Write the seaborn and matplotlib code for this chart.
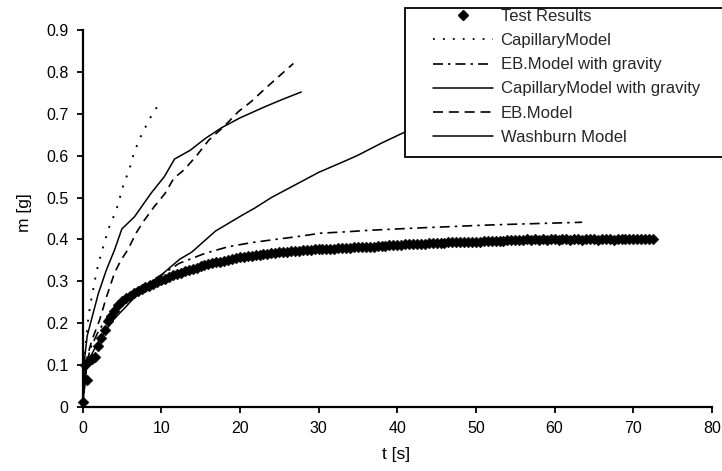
import numpy as np
import pandas as pd
import matplotlib
matplotlib.use("Agg")
import matplotlib.pyplot as plt
from matplotlib.lines import Line2D
from matplotlib.patches import Rectangle
import seaborn as sns

# ---------------- data ----------------
test_t = [0.1, 0.3, 0.6, 0.9, 1.2, 1.6, 2.0, 2.4, 2.8, 3.2, 3.6, 4.0,
          4.5, 5.0, 5.5, 6.0, 6.5, 7.0, 7.5, 8.0, 8.5, 9.0, 9.5, 10.0,
          10.5, 11.0, 11.5, 12.0, 12.5, 13.0, 13.5, 14.0, 14.5, 15.0,
          15.5, 16.0, 16.5, 17.0, 17.5, 18.0, 18.5, 19.0, 19.5, 20.0,
          20.5, 21.0, 21.5, 22.0, 22.5, 23.0, 23.5, 24.0, 24.5, 25.0,
          25.5, 26.0, 26.5, 27.0, 27.5, 28.0, 28.5, 29.0, 29.5, 30.0,
          30.5, 31.0, 31.5, 32.0, 32.5, 33.0, 33.5, 34.0, 34.5, 35.0,
          35.5, 36.0, 36.5, 37.0, 37.5, 38.0, 38.5, 39.0, 39.5, 40.0,
          40.5, 41.0, 41.5, 42.0, 42.5, 43.0, 43.5, 44.0, 44.5, 45.0,
          45.5, 46.0, 46.5, 47.0, 47.5, 48.0, 48.5, 49.0, 49.5, 50.0,
          50.5, 51.0, 51.5, 52.0, 52.5, 53.0, 53.5, 54.0, 54.5, 55.0,
          55.5, 56.0, 56.5, 57.0, 57.5, 58.0, 58.5, 59.0, 59.5, 60.0,
          60.5, 61.0, 61.5, 62.0, 62.5, 63.0, 63.5, 64.0, 64.5, 65.0,
          65.5, 66.0, 66.5, 67.0, 67.5, 68.0, 68.5, 69.0, 69.5, 70.0,
          70.5, 71.0, 71.5, 72.0, 72.5]
test_m = [0.013, 0.100, 0.064, 0.112, 0.115, 0.120, 0.145, 0.165, 0.185, 0.205, 0.218, 0.230,
          0.243, 0.252, 0.260, 0.266, 0.272, 0.277, 0.282, 0.286, 0.290, 0.294, 0.298, 0.302,
          0.306, 0.310, 0.314, 0.318, 0.321, 0.324, 0.327, 0.330, 0.333, 0.336,
          0.338, 0.341, 0.343, 0.345, 0.347, 0.349, 0.351, 0.353, 0.355, 0.357,
          0.358, 0.360, 0.361, 0.362, 0.364, 0.365, 0.366, 0.367, 0.368, 0.369,
          0.370, 0.371, 0.372, 0.372, 0.373, 0.374, 0.374, 0.375, 0.376, 0.376,
          0.377, 0.377, 0.378, 0.378, 0.379, 0.379, 0.380, 0.380, 0.381, 0.381,
          0.382, 0.382, 0.383, 0.383, 0.384, 0.385, 0.385, 0.386, 0.386, 0.387,
          0.387, 0.388, 0.388, 0.389, 0.389, 0.390, 0.390, 0.391, 0.391, 0.392,
          0.392, 0.392, 0.393, 0.393, 0.393, 0.394, 0.394, 0.394, 0.395, 0.395,
          0.395, 0.396, 0.396, 0.396, 0.397, 0.397, 0.397, 0.398, 0.399, 0.399,
          0.399, 0.399, 0.400, 0.399, 0.400, 0.399, 0.400, 0.399, 0.400, 0.400,
          0.399, 0.400, 0.400, 0.399, 0.400, 0.400, 0.399, 0.400, 0.400, 0.400,
          0.399, 0.400, 0.400, 0.400, 0.399, 0.400, 0.400, 0.400, 0.400, 0.400,
          0.400, 0.400, 0.400, 0.400, 0.400]

cap_t = [0.0, 0.3, 0.7, 1.0, 1.6, 2.0, 2.7, 3.4, 4.3, 5.2, 6.0, 6.6, 7.5, 8.6, 9.7]
cap_m = [0.0, 0.130, 0.205, 0.245, 0.305, 0.340, 0.387, 0.430, 0.470, 0.530, 0.570,
         0.610, 0.650, 0.690, 0.723]

ebg_t = [0.0, 0.5, 1.0, 2.0, 3.0, 4.0, 5.0, 6.0, 7.0, 8.0, 9.0, 10.0, 12.3, 15.6,
         18.6, 21.7, 24.9, 27.0, 30.3, 33.3, 36.6, 42.1, 46.0, 50.9, 56.0, 63.5]
ebg_m = [0.0, 0.100, 0.140, 0.180, 0.210, 0.235, 0.255, 0.270, 0.283, 0.294, 0.304,
         0.315, 0.343, 0.367, 0.383, 0.393, 0.401, 0.406, 0.415, 0.418, 0.422, 0.427,
         0.430, 0.434, 0.437, 0.441]

capg_t = [0.0, 0.3, 0.6, 1.13, 2.0, 3.03, 4.07, 5.0, 6.6, 8.7, 10.4, 11.7, 13.7,
          15.6, 17.7, 20.0, 23.2, 25.5, 27.8]
capg_m = [0.0, 0.120, 0.170, 0.208, 0.270, 0.327, 0.375, 0.425, 0.454, 0.510, 0.550,
          0.592, 0.613, 0.641, 0.667, 0.690, 0.717, 0.735, 0.752]

eb_t = [0.0, 0.6, 1.2, 2.18, 3.0, 4.07, 4.9, 5.75, 6.8, 7.86, 9.1, 10.5, 11.6, 12.9,
        14.5, 16.05, 18.0, 19.8, 21.5, 23.2, 25.0, 26.8]
eb_m = [0.0, 0.120, 0.160, 0.208, 0.260, 0.320, 0.351, 0.375, 0.415, 0.446, 0.478,
        0.510, 0.546, 0.566, 0.600, 0.637, 0.670, 0.705, 0.730, 0.760, 0.790, 0.820]

wash_t = [0.0, 0.5, 1.0, 2.0, 3.0, 4.0, 5.5, 7.0, 8.5, 10.0, 12.3, 13.9, 16.9, 20.3,
          21.9, 24.0, 26.6, 28.2, 30.0, 33.7, 35.0, 38.0, 40.7, 45.0]
wash_m = [0.0, 0.090, 0.120, 0.155, 0.184, 0.210, 0.239, 0.270, 0.295, 0.315, 0.352,
          0.370, 0.420, 0.458, 0.475, 0.500, 0.526, 0.542, 0.560, 0.590, 0.601, 0.630,
          0.654, 0.690]

labels = ["Test Results", "CapillaryModel", "EB.Model with gravity",
          "CapillaryModel with gravity", "EB.Model", "Washburn Model"]
x_ticks = [0, 10, 20, 30, 40, 50, 60, 70, 80]
y_ticks = [0, 0.1, 0.2, 0.3, 0.4, 0.5, 0.6, 0.7, 0.8, 0.9]
y_ticklabels = ["0", "0.1", "0.2", "0.3", "0.4", "0.5", "0.6", "0.7", "0.8", "0.9"]

# ---------------- style ----------------
sns.set_theme(style="ticks")
plt.rcParams["font.family"] = ["Liberation Sans Narrow", "Liberation Sans", "DejaVu Sans"]

W, H = 722, 471
fig = plt.figure(figsize=(W / 100, H / 100), dpi=100)
ax = fig.add_axes([82.5 / W, (H - 407) / H, (712 - 82.5) / W, (407 - 30) / H])

dotted = (0, (1.0, 4.5))
dashdot = (0, (6, 3, 1.5, 3))
dashed = (0, (5, 3.5))

sns.lineplot(x=cap_t, y=cap_m, ax=ax, color="black", lw=1.4, linestyle=dotted, sort=False)
sns.lineplot(x=ebg_t, y=ebg_m, ax=ax, color="black", lw=1.2, linestyle=dashdot, sort=False)
sns.lineplot(x=capg_t, y=capg_m, ax=ax, color="black", lw=1.1, sort=False)
sns.lineplot(x=eb_t, y=eb_m, ax=ax, color="black", lw=1.2, linestyle=dashed, sort=False)
sns.lineplot(x=wash_t, y=wash_m, ax=ax, color="black", lw=1.1, sort=False)
sns.scatterplot(x=test_t, y=test_m, ax=ax, marker="D", s=30, color="black",
                edgecolor="black", linewidth=0.4, clip_on=False, zorder=3)

ax.set_xlim(0, 80)
ax.set_ylim(0, 0.9)
ax.set_xticks(x_ticks)
ax.set_xticklabels([str(v) for v in x_ticks])
ax.set_yticks(y_ticks)
ax.set_yticklabels(y_ticklabels)
for s in ["top", "right"]:
    ax.spines[s].set_visible(False)
for s in ["left", "bottom"]:
    ax.spines[s].set_linewidth(1.6)
    ax.spines[s].set_color("black")
ax.tick_params(axis="both", direction="out", length=4, width=1.3, colors="black",
               labelsize=11.5, pad=6)
ax.set_xlabel("t [s]", fontsize=12.5, color="black")
ax.set_ylabel("m [g]", fontsize=12.5, color="black")
ax.xaxis.set_label_coords(0.498, -0.105)
ax.yaxis.set_label_coords(-0.08, 0.515)

# legend frame (extends past right edge like the reference)
rect = Rectangle((405 / W, (H - 157) / H), 340 / W, 149 / H, transform=fig.transFigure,
                 facecolor="white", edgecolor="black", lw=1.3, zorder=4, clip_on=False)
fig.patches.append(rect)

handles = [
    Line2D([], [], color="black", marker="D", markersize=5, linestyle="none"),
    Line2D([], [], color="black", lw=1.3, linestyle=dotted),
    Line2D([], [], color="black", lw=1.2, linestyle=dashdot),
    Line2D([], [], color="black", lw=1.1),
    Line2D([], [], color="black", lw=1.2, linestyle=(0, (6, 3.5))),
    Line2D([], [], color="black", lw=1.1),
]
leg = fig.legend(handles, labels, loc="upper left", bbox_to_anchor=(433 / W, (H - 9) / H),
                 bbox_transform=fig.transFigure, frameon=False,
                 handlelength=3.6, handletextpad=0.45, labelspacing=0.55,
                 borderpad=0, borderaxespad=0,
                 prop={"family": ["Liberation Sans", "DejaVu Sans"], "size": 12})
leg.set_zorder(6)

fig.savefig("out.png", dpi=100, facecolor="white")
